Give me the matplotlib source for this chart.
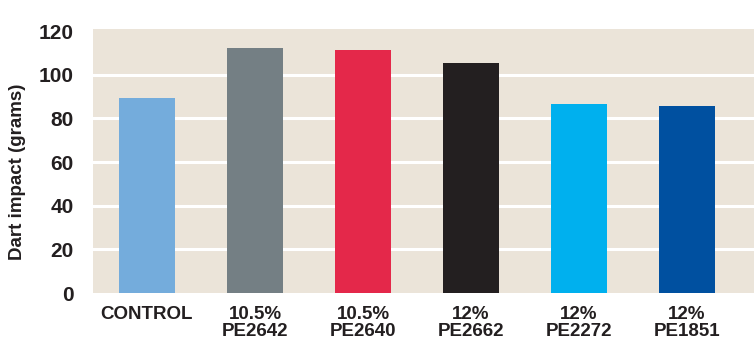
import matplotlib.pyplot as plt

# data
labels = ['CONTROL', '10.5%\nPE2642', '10.5%\nPE2640', '12%\nPE2662', '12%\nPE2272', '12%\nPE1851']
dart_impact = [89.5, 112.5, 111.5, 105.5, 86.5, 85.5]
colors = ['#74acdc', '#747f84', '#e4284a', '#231f20', '#00b0ee', '#0050a0']
yticks = [0, 20, 40, 60, 80, 100, 120]

txt = '#231f20'
plt.rcParams['font.family'] = ['Liberation Sans', 'DejaVu Sans']
plt.rcParams['font.weight'] = 'bold'

fig = plt.figure(figsize=(7.54, 3.45), dpi=100)
ax = fig.add_axes([0.1233, 0.1507, 0.8767, 0.7652])
ax.set_facecolor('#ebe4d9')

x = range(len(labels))
ax.bar(x, dart_impact, width=0.52, color=colors, zorder=3)

ax.set_ylim(0, 121)
ax.set_xlim(-0.5, 5.62)
ax.set_yticks(yticks)
ax.set_yticklabels([str(t) for t in yticks], fontsize=15, color=txt, fontweight='bold')
ax.set_xticks(list(x))
ax.set_xticklabels(labels, fontsize=13.5, color=txt, fontweight='bold', linespacing=1.0)
ax.tick_params(axis='both', length=0)
ax.tick_params(axis='y', pad=14)
ax.tick_params(axis='x', pad=9)

for t in yticks[1:-1]:
    ax.axhline(t, color='white', lw=2.2, zorder=1)

for s in ax.spines.values():
    s.set_visible(False)

fig.text(18 / 754, 1 - 172 / 345, 'Dart impact (grams)', rotation=90,
         ha='center', va='center', fontsize=13.5, color=txt, fontweight='bold')

fig.savefig('out.png', dpi=100)
